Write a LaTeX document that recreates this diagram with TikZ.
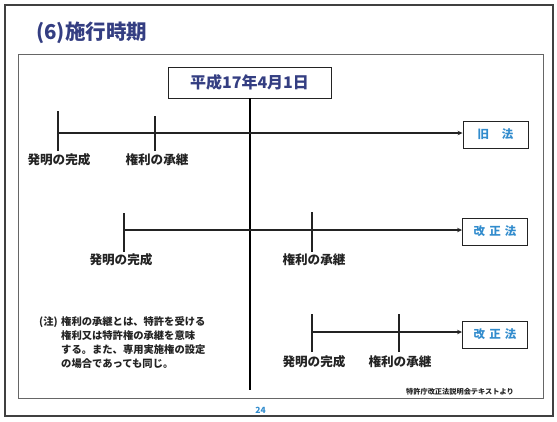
\documentclass[tikz,border=0pt]{standalone}
\usepackage{fontspec}
\newfontfamily\jp{Noto Sans CJK JP}
\usetikzlibrary{arrows.meta}
\definecolor{navy}{RGB}{52,62,130}
\definecolor{lblue}{RGB}{50,140,205}
\definecolor{ink}{RGB}{35,35,35}
\tikzset{
  tl/.style={line width=1.4pt, draw=ink},
  tick/.style={line width=1.1pt, draw=ink},
  arr/.style={tl, -{Stealth[length=5pt,width=4.5pt]}},
  lawbox/.style={draw=ink, line width=0.9pt, minimum width=65pt, minimum height=27pt, inner sep=0pt, text=lblue, font=\jp\bfseries\fontsize{11.5}{13}\selectfont},
  lbl/.style={font=\jp\bfseries\fontsize{12.6}{14}\selectfont, text=ink, inner sep=0pt},
}
\begin{document}
\begin{tikzpicture}[x=1pt,y=-1pt]
\useasboundingbox (0,0) rectangle (557,421);
% frames
\draw[line width=2pt, draw=black!75] (5,5) rectangle (553,416);
\draw[line width=0.9pt, draw=black!60] (18,54) rectangle (543,398);
% title
\node[anchor=west, inner sep=0pt, text=navy, font=\jp\bfseries\fontsize{20.5}{24}\selectfont] (title) at (36,33) {(6)施行時期};
% date box
\node[draw=ink, line width=0.9pt, minimum width=163pt, minimum height=31pt, inner sep=0pt, text=navy, font=\jp\bfseries\fontsize{16}{18}\selectfont] (date) at (249.5,82.5) {平成17年4月1日};
\coordinate (vend) at (250,390);
\draw[line width=1.8pt, draw=black] (date.south -| vend) -- (vend);
% law boxes
\node[lawbox] (old) at (495.5,134.5) {旧\hspace{1.1em}法};
\node[lawbox] (new1) at (495,231.5) {改\hspace{0.35em}正\hspace{0.35em}法};
\node[lawbox] (new2) at (495,334.5) {改\hspace{0.35em}正\hspace{0.35em}法};
% timeline 1
\coordinate (s1) at (58,133);
\coordinate (t1) at (155,133);
\draw[arr] (s1) -- (s1 -| old.west);
\draw[tick] ([yshift=-18pt]s1) -- ([yshift=22pt]s1);
\draw[tick] ([yshift=-18pt]t1) -- ([yshift=17pt]t1);
\node[lbl] (l1a) at (59,160) {発明の完成};
\node[lbl] (l1b) at (157,160) {権利の承継};
% timeline 2
\coordinate (s2) at (124,230);
\coordinate (t2) at (312,230);
\draw[arr] (s2) -- (s2 -| new1.west);
\draw[tick] ([yshift=-22pt]s2) -- ([yshift=17pt]s2);
\draw[tick] ([yshift=-22pt]t2) -- ([yshift=18pt]t2);
\node[lbl] (l2a) at (121,260) {発明の完成};
\node[lbl] (l2b) at (314,260) {権利の承継};
% timeline 3
\coordinate (s3) at (312,332);
\coordinate (t3) at (399,332);
\draw[arr] (s3) -- (s3 -| new2.west);
\draw[tick] ([yshift=-20pt]s3) -- ([yshift=18pt]s3);
\draw[tick] ([yshift=-20pt]t3) -- ([yshift=18pt]t3);
\node[lbl] (l3a) at (314,362) {発明の完成};
\node[lbl] (l3b) at (400,362) {権利の承継};
% note
\node[anchor=north west, inner sep=0pt, text=ink, font=\jp\bfseries\fontsize{10.3}{14}\selectfont] (notehead) at (39,316.5) {(注)};
\node[anchor=north west, inner sep=0pt, text=ink, align=left, font=\jp\bfseries\fontsize{10.3}{14}\selectfont] (note) at (61,316.5) {権利の承継とは、特許を受ける\\権利又は特許権の承継を意味\\する。また、専用実施権の設定\\の場合であっても同じ。};
% source
\node[anchor=east, inner sep=0pt, text=ink, font=\jp\bfseries\fontsize{7.2}{9}\selectfont] (src) at (514,391.5) {特許庁改正法説明会テキストより};
% page number
\node[inner sep=0pt, text=lblue, font=\jp\bfseries\fontsize{8.5}{10}\selectfont] (pg) at (260.5,410) {24};
\end{tikzpicture}
\end{document}
